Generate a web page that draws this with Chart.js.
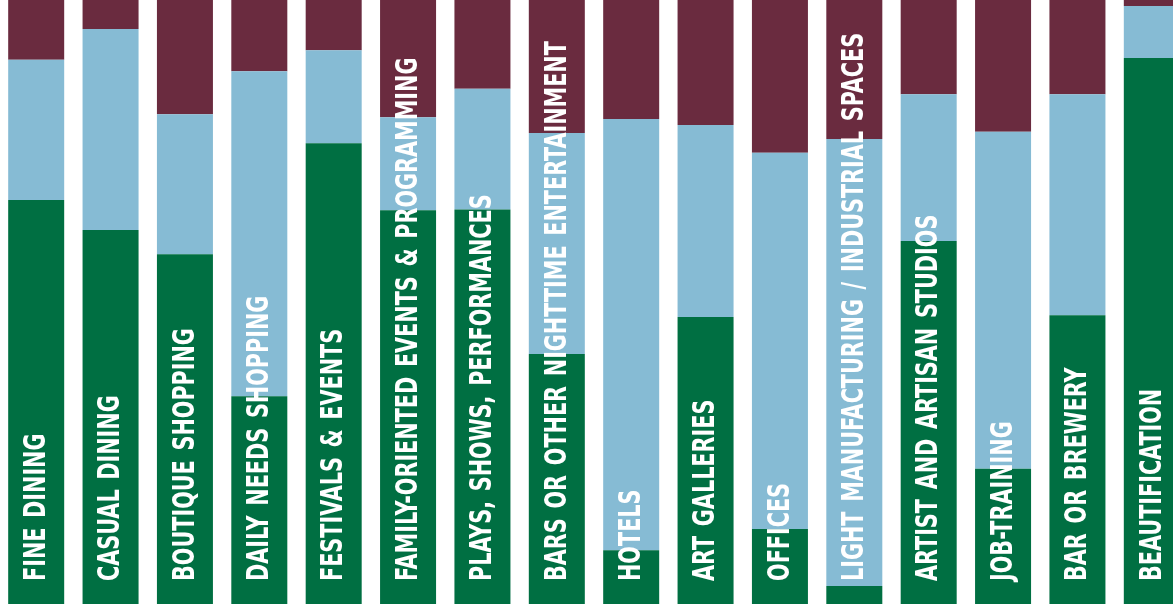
<!DOCTYPE html>
<html>
<head>
<meta charset="utf-8">
<script src="https://cdn.jsdelivr.net/npm/chart.js@4"></script>
<style>
  html, body { margin: 0; padding: 0; background: #fff; overflow: hidden; }
  #wrap { position: absolute; left: -1px; top: 0; width: 1190px; height: 611px; }
</style>
</head>
<body>
<div id="wrap"><canvas id="chart" width="1190" height="611"></canvas></div>
<script>
// categories (left to right)
const categories = [
  'FINE DINING', 'CASUAL DINING', 'BOUTIQUE SHOPPING', 'DAILY NEEDS SHOPPING',
  'FESTIVALS & EVENTS', 'FAMILY-ORIENTED EVENTS & PROGRAMMING', 'PLAYS, SHOWS, PERFORMANCES',
  'BARS OR OTHER NIGHTTIME ENTERTAINMENT', 'HOTELS', 'ART GALLERIES', 'OFFICES',
  'LIGHT MANUFACTURING / INDUSTRIAL SPACES', 'ARTIST AND ARTISAN STUDIOS', 'JOB-TRAINING',
  'BAR OR BREWERY', 'BEAUTIFICATION'
];

// share of responses, percent (bottom -> top)
const greenValues  = [66.9, 61.9, 57.9, 34.4, 76.3, 65.2, 65.3, 41.4, 8.9, 47.5, 12.4, 3.0, 60.1, 22.4, 47.8, 90.4];
const blueValues   = [23.2, 33.3, 23.2, 53.8, 15.4, 15.4, 20.0, 36.6, 71.4, 31.8, 62.3, 74.0, 24.3, 55.8, 36.6, 8.6];
const maroonValues = [9.9, 4.8, 18.9, 11.8, 8.3, 19.4, 14.7, 22.0, 19.7, 20.7, 25.3, 23.0, 15.6, 21.8, 15.6, 1.0];

const GREEN = '#006f42';
const BLUE = '#86bbd4';
const MAROON = '#6a2b3f';

// white vertical labels inside each bar, reading bottom to top
const barLabels = {
  id: 'barLabels',
  afterDatasetsDraw(chart) {
    const ctx = chart.ctx;
    const meta = chart.getDatasetMeta(0);
    const base = chart.scales.y.getPixelForValue(0);
    ctx.save();
    ctx.font = 'bold 30px "Liberation Sans Narrow", "DejaVu Sans Condensed", "Roboto", sans-serif';
    // squeeze text so it looks like a condensed gothic face
    const squeeze = 145 / ctx.measureText('FINE DINING').width;
    ctx.wordSpacing = (2.5 / squeeze) + 'px';
    ctx.fillStyle = '#ffffff';
    ctx.textAlign = 'left';
    ctx.textBaseline = 'middle';
    meta.data.forEach((bar, i) => {
      ctx.save();
      ctx.translate(bar.x, base - 23);
      ctx.rotate(-Math.PI / 2);
      ctx.scale(squeeze, 1);
      ctx.fillText(categories[i], 0, 1);
      ctx.restore();
    });
    ctx.restore();
  }
};

new Chart(document.getElementById('chart'), {
  type: 'bar',
  data: {
    labels: categories,
    datasets: [
      { label: 'green', data: greenValues, backgroundColor: GREEN },
      { label: 'blue', data: blueValues, backgroundColor: BLUE },
      { label: 'maroon', data: maroonValues, backgroundColor: MAROON }
    ]
  },
  options: {
    responsive: false,
    animation: false,
    layout: { padding: { top: 0, bottom: 7, left: 0, right: 0 } },
    datasets: {
      bar: { barPercentage: 0.753, categoryPercentage: 1, borderWidth: 0 }
    },
    plugins: {
      legend: { display: false },
      tooltip: { enabled: false }
    },
    scales: {
      x: { stacked: true, display: false },
      y: { stacked: true, display: false, min: 0, max: 100 }
    }
  },
  plugins: [barLabels]
});
</script>
</body>
</html>
